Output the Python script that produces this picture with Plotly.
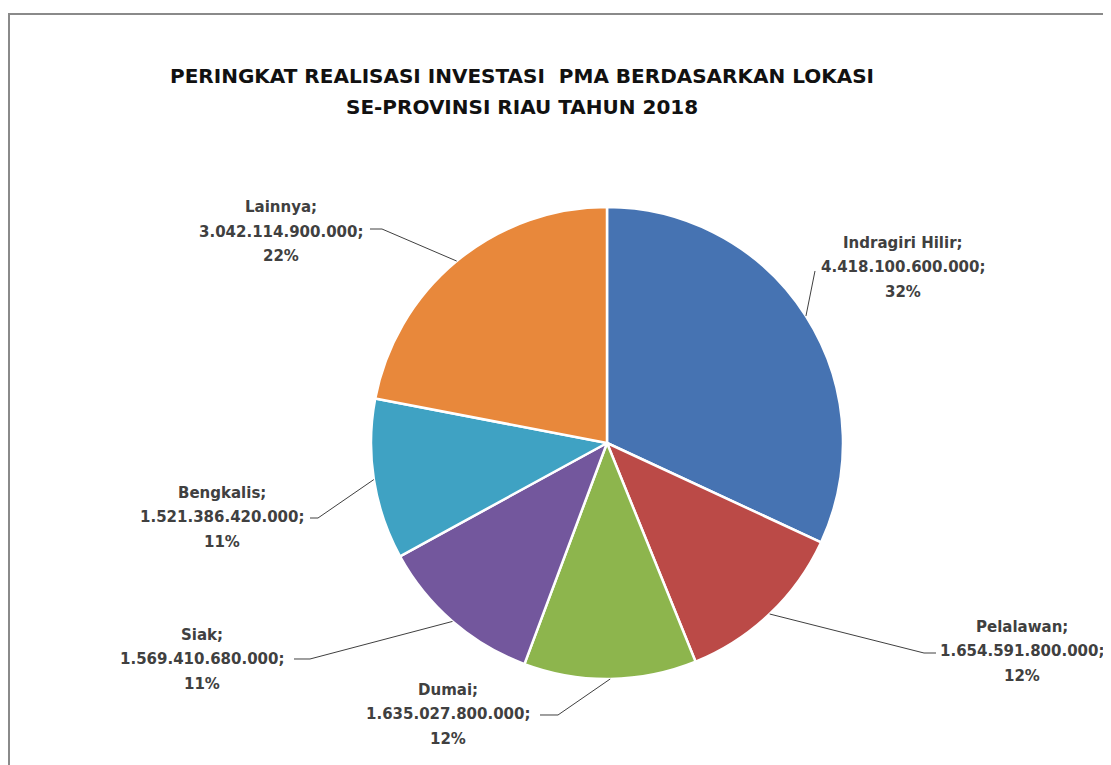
import math
import plotly.graph_objects as go

W, H = 1111, 765
OFF = 8  # page body margin in the browser

locations = ["Indragiri Hilir", "Pelalawan", "Dumai", "Siak", "Bengkalis", "Lainnya"]
values = [4418100600000, 1654591800000, 1635027800000, 1569410680000, 1521386420000, 3042114900000]
value_text = ["4.418.100.600.000", "1.654.591.800.000", "1.635.027.800.000",
              "1.569.410.680.000", "1.521.386.420.000", "3.042.114.900.000"]
colors = ["#4673B2", "#BB4A47", "#8DB54D", "#73579D", "#3FA2C3", "#E8883B"]
title_lines = ["PERINGKAT REALISASI INVESTASI  PMA BERDASARKAN LOKASI",
               "SE-PROVINSI RIAU TAHUN 2018"]

# layout: pie center and radius in screen pixels
CX, CY, R = 607, 443, 236
# label centers (middle line, screen pixels) and leader-line elbows
label_pos = [(903, 267), (1022, 651), (448, 714), (202, 659), (222, 517), (281, 232)]
elbows = [[(815, 271)], [(924, 653), (936, 653)], [(558, 715), (540, 715)],
          [(310, 659), (294, 659)], [(318, 518), (310, 518)], [(382, 229), (370, 229)]]
LINE_GAP = 24.5


def px(x):
    return (x - OFF) / W


def py(y):
    return 1 - (y - OFF) / H


total = sum(values)
fig = go.Figure()
fig.add_trace(go.Pie(
    labels=locations, values=values, sort=False, direction="clockwise", rotation=0,
    marker=dict(colors=colors, line=dict(color="white", width=2.5)),
    textinfo="none", hoverinfo="label+value+percent", showlegend=False,
    domain=dict(x=[px(CX - R), px(CX + R)], y=[py(CY + R), py(CY - R)]),
))

shapes = []
annotations = []
lab_font = dict(family="DejaVu Sans", size=15, color="#404040")
cum = 0
for i, v in enumerate(values):
    mid = (cum + v / 2) / total * 2 * math.pi
    cum += v
    ex = CX + R * math.sin(mid)
    ey = CY - R * math.cos(mid)
    pts = [(ex, ey)] + elbows[i]
    path = "M " + " L ".join(f"{px(a):.5f},{py(b):.5f}" for a, b in pts)
    shapes.append(dict(type="path", xref="paper", yref="paper", path=path,
                       line=dict(color="#404040", width=1)))
    pct = round(v / total * 100)
    lx, ly = label_pos[i]
    for k, t in enumerate([f"{locations[i]};", f"{value_text[i]};", f"{pct}%"]):
        annotations.append(dict(
            x=px(lx), y=py(ly + (k - 1) * LINE_GAP), xref="paper", yref="paper",
            showarrow=False, xanchor="center", yanchor="middle",
            text=f"<b>{t}</b>", font=lab_font,
        ))

for k, (t, ty) in enumerate(zip(title_lines, [76, 107])):
    annotations.append(dict(
        x=px(522), y=py(ty), xref="paper", yref="paper", showarrow=False,
        xanchor="center", yanchor="middle",
        text=f"<b>{t}</b>",
        font=dict(family="DejaVu Sans", size=20, color="#111111"),
    ))

shapes.append(dict(type="rect", xref="paper", yref="paper",
                   x0=px(9), y0=py(790), x1=px(1135), y1=py(14),
                   line=dict(color="#8a8a8a", width=2), layer="below"))

fig.update_layout(
    width=W, height=H, margin=dict(l=0, r=0, t=0, b=0),
    paper_bgcolor="white", plot_bgcolor="white",
    shapes=shapes, annotations=annotations,
)
fig.write_html("out.html")
